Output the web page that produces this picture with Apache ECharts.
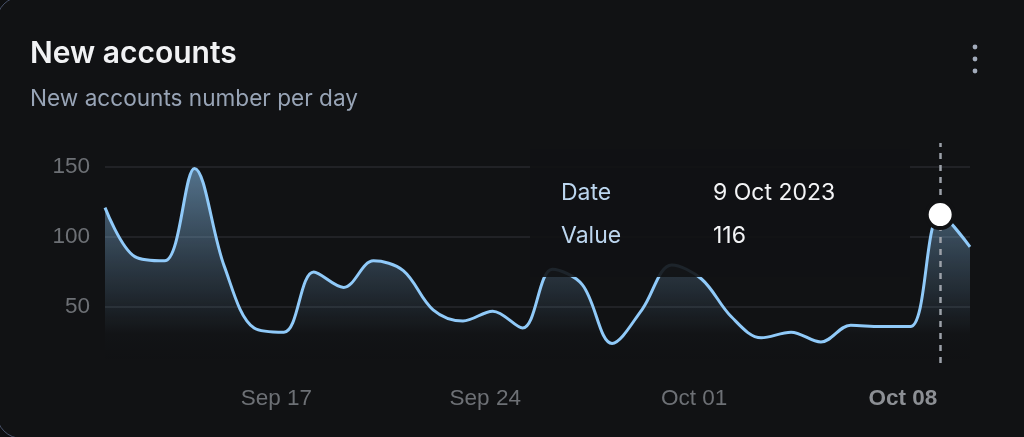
<!DOCTYPE html>
<html>
<head>
<meta charset="utf-8">
<script src="https://cdn.jsdelivr.net/npm/echarts@6/dist/echarts.min.js"></script>
<style>
  html, body { margin: 0; padding: 0; background: #0e0f11; overflow: hidden; }
  #card { position: absolute; left: -4px; top: -4px; width: 1070px; height: 443px; box-sizing: border-box;
          border: 1.5px solid #48526a; border-radius: 26px; background: #111214; }
  #chart { position: absolute; left: 0; top: 0; width: 1024px; height: 437px; }
</style>
</head>
<body>
<div id="card"></div>
<div id="chart"></div>
<script>
const titleText = 'New accounts';
const subtitleText = 'New accounts number per day';
const dates = ['Sep 11','Sep 12','Sep 13','Sep 14','Sep 15','Sep 16','Sep 17','Sep 18','Sep 19','Sep 20',
               'Sep 21','Sep 22','Sep 23','Sep 24','Sep 25','Sep 26','Sep 27','Sep 28','Sep 29','Sep 30',
               'Oct 01','Oct 02','Oct 03','Oct 04','Oct 05','Oct 06','Oct 07','Oct 08','Oct 09','Oct 10'];
const newAccounts = [121, 86, 83, 149, 79, 35, 32, 75, 64, 83,
                     76, 48, 40, 47, 35, 77, 66, 24, 48, 80,
                     70, 43, 28, 32, 25, 37, 36, 36, 116, 93];
const tickLabels = ['Sep 17', 'Sep 24', 'Oct 01', 'Oct 08'];
const boldTick = 'Oct 08';
const yMin = 10, yMax = 167.14;
const focusDate = 'Oct 09';
const focusDateLong = '9 Oct 2023';

const focusIndex = dates.indexOf(focusDate);
const focusSeries = newAccounts.map(function (v, i) { return i === focusIndex ? v : '-'; });
const chart = echarts.init(document.getElementById('chart'), null, { renderer: 'canvas' });

const option = {
  backgroundColor: 'transparent',
  animation: false,
  title: [
    { text: titleText, left: 30, top: 39, padding: 0,
      textStyle: { color: '#f1f2f4', fontSize: 30, fontWeight: 600, fontFamily: 'Inter' } },
    { text: subtitleText, left: 30, top: 88, padding: 0,
      textStyle: { color: '#98a4b6', fontSize: 22.6, fontWeight: 400, fontFamily: 'Inter' } }
  ],
  graphic: [
    { type: 'circle', shape: { cx: 975, cy: 47, r: 2.4 }, style: { fill: '#a2abbb' } },
    { type: 'circle', shape: { cx: 975, cy: 59, r: 2.4 }, style: { fill: '#a2abbb' } },
    { type: 'circle', shape: { cx: 975, cy: 71, r: 2.4 }, style: { fill: '#a2abbb' } }
  ],
  grid: { left: 105, right: 54, top: 143, bottom: 74, containLabel: false },
  tooltip: {
    trigger: 'axis',
    triggerOn: 'none',
    alwaysShowContent: true,
    transitionDuration: 0,
    backgroundColor: 'rgba(17,18,20,0.9)',
    borderWidth: 0,
    padding: 0,
    extraCssText: 'box-shadow:none;border-radius:0;',
    position: function () { return [530, 149]; },
    axisPointer: {
      type: 'line',
      animation: false,
      lineStyle: { color: '#9ca1a9', width: 2.5, type: [6, 6] }
    },
    formatter: function (params) {
      const p = params[0];
      const lab = 'position:absolute;left:31px;color:#bcd6ef;line-height:20px;white-space:nowrap;';
      const val = 'position:absolute;left:183px;color:#f3f4f6;line-height:20px;white-space:nowrap;';
      return '<div style="position:relative;width:380px;height:128px;font-family:Inter;font-size:23px;">' +
        '<span style="' + lab + 'top:33px;">Date</span>' +
        '<span style="' + val + 'top:33px;">' + focusDateLong + '</span>' +
        '<span style="' + lab + 'top:76px;">Value</span>' +
        '<span style="' + val + 'top:76px;">' + p.value + '</span>' +
        '</div>';
    }
  },
  xAxis: {
    type: 'category',
    data: dates,
    boundaryGap: false,
    axisLine: { show: false },
    axisTick: { show: false },
    splitLine: { show: false },
    axisPointer: { label: { show: false } },
    axisLabel: {
      interval: function (i, v) { return tickLabels.indexOf(v) >= 0; },
      margin: 24,
      padding: [0, 15, 0, 0],
      color: '#6d7075',
      fontSize: 22.5,
      fontFamily: 'Liberation Sans',
      formatter: function (v) { return v === boldTick ? '{b|' + v + '}' : v; },
      rich: { b: { fontWeight: 'bold', color: '#8c8f94', fontSize: 22.5, fontFamily: 'Liberation Sans' } }
    }
  },
  yAxis: {
    type: 'value',
    min: yMin,
    max: yMax,
    splitNumber: 3,
    axisLine: { show: false },
    axisTick: { show: false },
    axisLabel: {
      showMinLabel: false, showMaxLabel: false,
      margin: 15, color: '#6d7075', fontSize: 22.5, fontFamily: 'Liberation Sans'
    },
    splitLine: { showMinLine: false, showMaxLine: false, lineStyle: { color: '#27292d', width: 1.5 } }
  },
  series: [{
    type: 'line',
    data: newAccounts,
    smooth: 0.35,
    showSymbol: false,
    emphasis: { disabled: true },
    lineStyle: { color: '#90caf9', width: 3 },
    areaStyle: {
      color: new echarts.graphic.LinearGradient(0, 0, 0, 1, [
        { offset: 0, color: 'rgba(144,202,249,0.75)' },
        { offset: 0.5, color: 'rgba(144,202,249,0.3)' },
        { offset: 0.85, color: 'rgba(144,202,249,0.02)' },
        { offset: 1, color: 'rgba(144,202,249,0)' }
      ])
    },
    clip: false
  }, {
    type: 'scatter',
    data: focusSeries,
    z: 60,
    symbol: 'circle',
    symbolSize: 27,
    itemStyle: { color: '#ffffff', borderColor: '#111214', borderWidth: 4, opacity: 1 },
    emphasis: { disabled: true },
    silent: true
  }]
};
chart.setOption(option);
chart.dispatchAction({ type: 'showTip', seriesIndex: 0, dataIndex: focusIndex });
</script>
</body>
</html>
